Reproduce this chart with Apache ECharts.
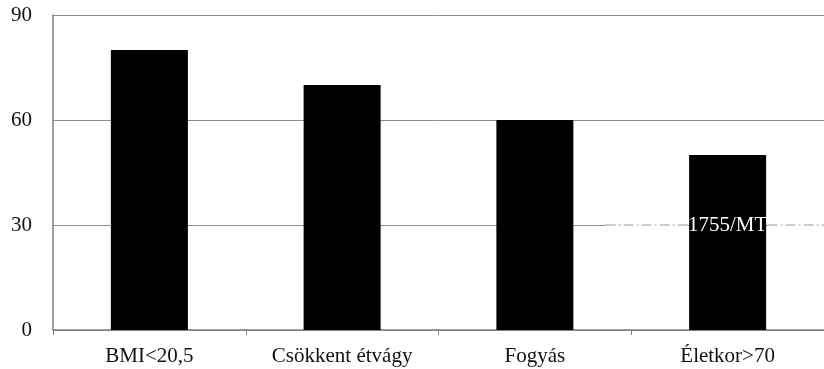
<!DOCTYPE html>
<html>
<head>
<meta charset="utf-8">
<script src="https://cdn.jsdelivr.net/npm/echarts@6/dist/echarts.min.js"></script>
<style>
  html, body { margin: 0; padding: 0; background: #fff; }
  #chart { width: 824px; height: 369px; }
</style>
</head>
<body>
<div id="chart"></div>
<script>
// Risk factors and their values
const categories = ['BMI<20,5', 'Csökkent étvágy', 'Fogyás', 'Életkor>70'];
const values = [80, 70, 60, 50];
const yTicks = [0, 30, 60, 90];
const stampText = '1755/MT';
const stampLevel = 30;

const FONT = 'Liberation Serif';

const chart = echarts.init(document.getElementById('chart'), null, { renderer: 'canvas' });

chart.setOption({
  animation: false,
  backgroundColor: '#ffffff',
  grid: { left: 53, right: -5, top: 15, bottom: 39, containLabel: false },
  xAxis: {
    type: 'category',
    data: categories,
    boundaryGap: true,
    axisLine: { lineStyle: { color: '#808080', width: 1.5 } },
    axisTick: { show: true, length: 5, lineStyle: { color: '#808080' } },
    axisLabel: { color: '#111', fontFamily: FONT, fontSize: 21, margin: 16 }
  },
  yAxis: {
    type: 'value',
    min: yTicks[0],
    max: yTicks[yTicks.length - 1],
    interval: yTicks[1] - yTicks[0],
    axisLine: { show: true, lineStyle: { color: '#808080', width: 1.5 } },
    axisTick: { show: false },
    splitLine: { lineStyle: { color: '#8c8c8c', width: 1 } },
    axisLabel: { color: '#111', fontFamily: FONT, fontSize: 21, margin: 21 }
  },
  series: [{
    type: 'bar',
    data: values,
    barWidth: 77,
    itemStyle: { color: '#000' },
    markPoint: {
      symbol: 'circle',
      symbolSize: 1,
      silent: true,
      itemStyle: { color: 'rgba(0,0,0,0)' },
      data: [{ coord: [categories[3], stampLevel] }],
      label: {
        show: true,
        formatter: stampText,
        color: '#fff',
        fontFamily: FONT,
        fontSize: 21,
        position: 'inside'
      }
    }
  }]
});

// Dash-dot stamp line along the 30 level on the right side
const yPx = chart.convertToPixel({ yAxisIndex: 0 }, stampLevel);
const x3 = chart.convertToPixel({ xAxisIndex: 0 }, categories[3]);
const segments = [[x3 - 122, x3 - 40], [x3 + 40, 824]];
const graphics = [];
segments.forEach(([a, b]) => {
  graphics.push({
    type: 'line', z: 5,
    shape: { x1: a, y1: yPx, x2: b, y2: yPx },
    style: { stroke: '#ffffff', lineWidth: 3 }
  });
  graphics.push({
    type: 'line', z: 6,
    shape: { x1: a, y1: yPx, x2: b, y2: yPx },
    style: { stroke: '#9a9a9a', lineWidth: 1, lineDash: [10, 3, 2, 3] }
  });
});
chart.setOption({ graphic: graphics });
</script>
</body>
</html>
